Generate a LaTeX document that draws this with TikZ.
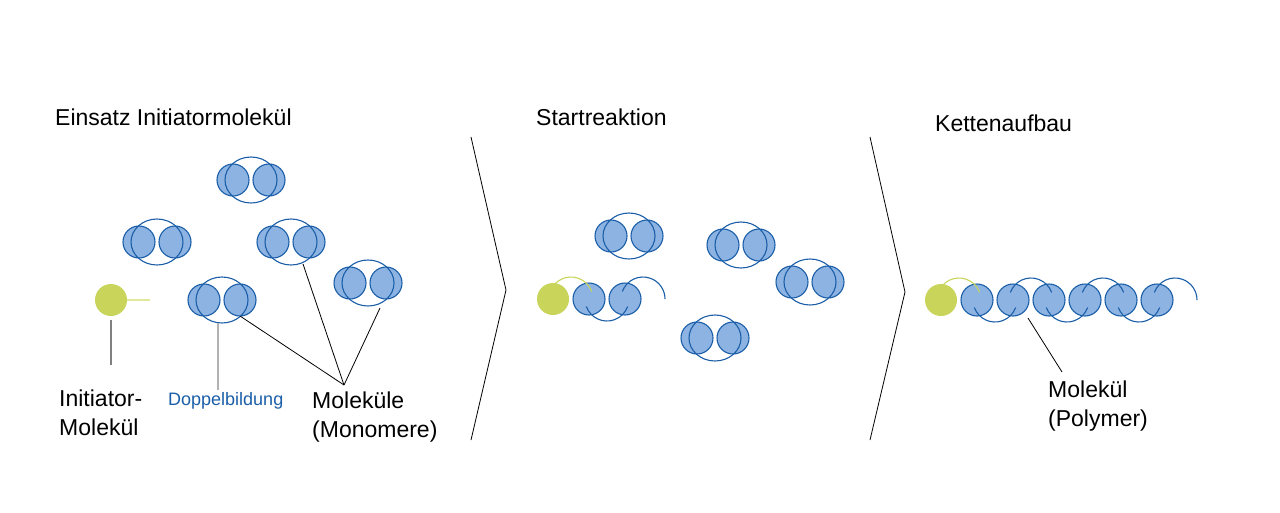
\documentclass[tikz,border=0pt]{standalone}
\usepackage{fontspec}
\setmainfont{Liberation Sans}
\usetikzlibrary{shapes.geometric}
\definecolor{monofill}{HTML}{8DB3E2}
\definecolor{monoline}{HTML}{1A5EA8}
\definecolor{initgreen}{HTML}{C8D45A}
\definecolor{initline}{HTML}{E0E89A}
\begin{document}
\begin{tikzpicture}
  [x=1pt,y=-1pt,
   ball/.style={circle,draw=monoline,fill=monofill,line width=1.1pt,
                outer sep=0,minimum size=32pt,inner sep=0},
   hull/.style={ellipse,draw=monoline,line width=1.1pt,
                outer sep=0,minimum width=52pt,minimum height=46pt,inner sep=0},
   initiator/.style={circle,fill=initgreen,outer sep=0,minimum size=32pt,inner sep=0},
   bond/.style={draw=monoline,line width=1.1pt},
   label/.style={align=left,anchor=west,inner sep=0,font=\fontsize{23}{29}\selectfont},
   pointer/.style={black,line width=0.8pt},
   stage/.style={black,line width=0.8pt}]
  \useasboundingbox (0,0) rectangle (1280,512);
  % monomer pairs
  \foreach \name/\x/\y in {m1/251/180,m2/157/242,m3/291/242,m4/368/283,m5/222/300,
                           s1/629/236,s2/741/245,s3/810/282,s4/715/338}{
    \node[ball] (\name l) at (\x-18,\y) {};
    \node[ball] (\name r) at (\x+18,\y) {};
    \node[hull] (\name) at (\x,\y) {};
  }
  % initiator
  \node[initiator] (init) at (111,300) {};
  \draw[initline,line width=1.2pt] (init.east) -- ++(23,0);
  % titles
  \node[label] (t1) at (55,117) {Einsatz Initiatormolekül};
  \node[label] (t2) at (536,117) {Startreaktion};
  \node[label] (t3) at (935,123) {Kettenaufbau};
  % stage arrows
  \draw[stage] (471,137) -- (506,290) -- (471,440);
  \draw[stage] (870,137) -- (905,292) -- (870,440);
  % labels stage 1
  \node[label] (initlab) at (59,413) {Initiator-\\Molekül};
  \node[label] (monolab) at (312,417) {Moleküle\\(Monomere)};
  \node[align=left,anchor=west,inner sep=0,text=monoline,font=\fontsize{18}{20}\selectfont]
    (dopplab) at (168,401) {Doppelbildung};
  \draw[gray,line width=1.2pt] (init.south) ++(0,4) -- (111,365);
  \draw[black!30,line width=1.2pt] (m5.south) ++(-4,0) -- (218,390);
  \coordinate (hub) at (344,385);
  \draw[pointer] (hub) -- (m5.south east);
  \draw[pointer] (hub) -- (303,264);
  \draw[pointer] (hub) -- (380,308);
  % stage 2 chain
  \node[initiator] (sinit) at (553,299) {};
  \node[ball] (sc1) at (589,299) {};
  \node[ball] (sc2) at (625,299) {};
  \draw[initgreen,line width=1.1pt] (571,299) ++(200:22) arc (200:340:22);
  \draw[bond] (607,299) ++(160:22) arc (160:20:22);
  \draw[bond] (643,299) ++(200:22) arc (200:360:22);
  % stage 3 chain
  \node[initiator] (cinit) at (941,300) {};
  \foreach \i/\x in {1/977,2/1013,3/1049,4/1085,5/1121,6/1157}{
    \node[ball] (c\i) at (\x,300) {};
  }
  \draw[initgreen,line width=1.1pt] (959,300) ++(200:22) arc (200:340:22);
  \foreach \m in {995,1067,1139}{
    \draw[bond] (\m,300) ++(160:22) arc (160:20:22);
  }
  \foreach \m in {1031,1103}{
    \draw[bond] (\m,300) ++(200:22) arc (200:340:22);
  }
  \draw[bond] (1175,300) ++(200:22) arc (200:360:22);
  \node[label] (polylab) at (1048,406) {Molekül\\(Polymer)};
  \draw[pointer] (1028,318) -- (1062,372);
\end{tikzpicture}
\end{document}
